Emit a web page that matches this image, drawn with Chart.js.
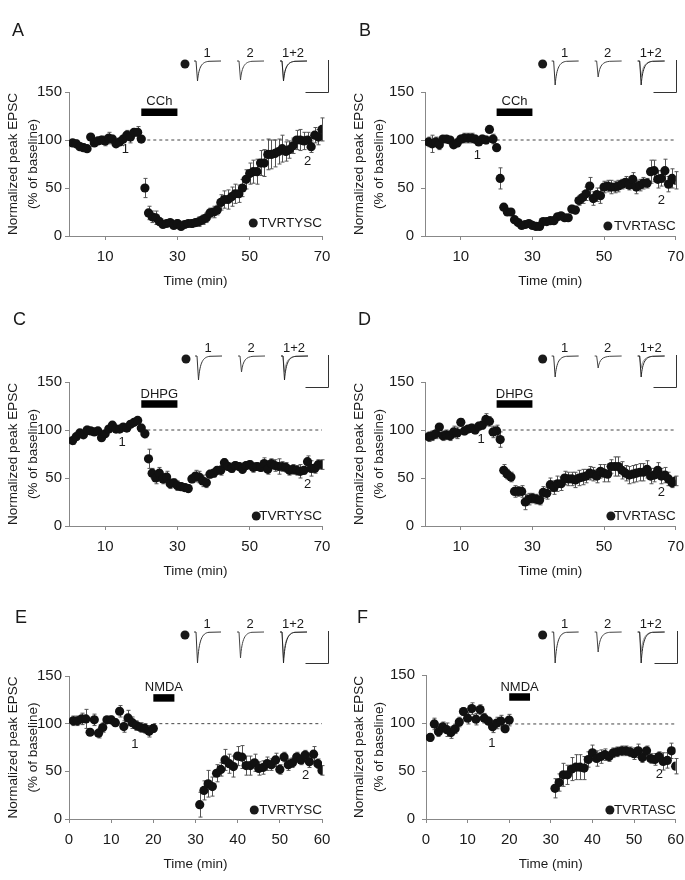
<!DOCTYPE html>
<html>
<head>
<meta charset="utf-8">
<script src="https://cdn.jsdelivr.net/npm/chart.js@4.4.1/dist/chart.umd.min.js"></script>
<style>
html, body { margin: 0; padding: 0; background: #fff; overflow: hidden; }
#fig { position: relative; width: 685px; height: 880px; }
#fig canvas { position: absolute; }
</style>
</head>
<body>
<div id="fig"></div>
<script>
// time points (min)
var timeLong = [1,2,3,4,5,6,7,8,9,10,11,12,13,14,15,16,17,18,19,20,
  21,22,23,24,25,26,27,28,29,30,31,32,33,34,35,36,37,38,39,40,
  41,42,43,44,45,46,47,48,49,50,51,52,53,54,55,56,57,58,59,60,
  61,62,63,64,65,66,67,68,69,70];
var timeNmda = [1,2,3,4,5,6,7,8,9,10,11,12,13,14,15,16,17,18,19,20,
  31,32,33,34,35,36,37,38,39,40,41,42,43,44,45,46,47,48,49,50,
  51,52,53,54,55,56,57,58,59,60];

// normalized peak EPSC (% of baseline) and SEM, one pair per panel
var valueA = [97,96,93,92,91,103,97,99,100,99, 102,101,96,98,101,105,103,108,108,101,
  50,24,20,19,15,12,13,14,11,13, 10,12,13,13,14,15,17,19,24,25,
  27,35,38,38,41,44,44,50,59,65, 67,67,76,76,85,85,86,88,91,88,
  90,94,100,100,99,100,93,105,103,111];
var semA = [3,4,4,4,3,3,3,3,4,5, 6,4,3,3,4,5,6,4,6,3,
  10,7,6,7,4,3,3,3,3,4, 3,3,3,4,4,5,5,5,5,6,
  5,8,9,10,10,10,9,9,10,11, 12,13,13,14,16,15,14,13,14,10,
  9,8,10,11,9,8,6,8,8,12];

var valueB = [98,96,98,95,101,101,100,95,97,101, 102,102,102,101,98,101,100,111,101,92,
  60,30,25,25,17,14,11,12,13,11, 10,10,15,15,16,16,20,21,19,19,
  28,27,37,40,44,52,39,43,42,51, 52,51,51,52,54,56,53,59,51,53,
  55,55,67,68,59,60,68,54,60,58];
var semB = [5,9,5,5,3,3,3,3,4,4, 5,5,5,4,3,4,4,3,5,3,
  11,3,3,3,3,3,2,3,3,3, 2,2,3,2,3,3,3,3,3,3,
  4,4,5,6,7,9,7,7,8,6, 6,7,6,6,5,6,5,7,7,6,
  6,5,12,11,9,8,12,8,10,9];

var valueC = [89,93,97,95,100,99,98,99,92,96, 101,105,101,101,103,102,106,108,110,102,
  96,70,55,50,55,49,51,44,45,42, 41,40,39,49,52,51,47,45,54,55,
  58,58,66,62,60,63,62,59,63,64, 61,62,61,65,59,65,63,62,62,61,
  58,59,58,57,58,67,60,60,64,64];
var semC = [4,3,3,3,4,3,3,3,3,3, 3,3,3,3,3,3,3,3,3,4,
  4,10,5,6,6,5,6,5,4,5, 4,4,4,4,6,6,6,5,4,4,
  4,5,4,4,4,4,4,4,4,4, 5,4,4,6,5,5,6,8,5,5,
  5,5,5,7,4,6,8,5,5,5];

var valueD = [93,94,96,103,94,95,94,98,97,108, 99,101,102,100,104,105,111,109,98,99,
  90,58,54,51,36,36,36,25,28,29, 28,27,35,34,43,40,44,44,50,49,
  49,48,50,51,52,55,54,52,57,55, 54,62,62,62,58,55,53,54,55,56,
  56,59,52,53,58,52,53,49,45,47];
var semD = [5,5,5,3,5,5,5,6,6,4, 4,3,4,4,4,4,6,5,6,6,
  8,6,5,5,6,5,6,8,6,5, 5,5,6,6,7,7,8,7,7,7,
  7,8,8,8,7,7,7,7,7,9, 8,7,10,10,9,8,9,9,9,9,
  9,9,8,7,8,8,8,7,5,5];

var valueE = [103,103,105,105,91,104,90,96,104,104, 101,113,97,106,101,98,96,95,92,95,
  15,30,37,34,48,52,62,58,55,66, 65,56,56,59,53,54,58,57,62,52,
  65,57,59,65,62,67,60,68,58,51];
var semE = [5,5,6,10,3,6,5,5,3,4, 4,6,6,8,6,5,5,5,6,4,
  13,10,14,10,9,7,11,10,11,10, 12,10,10,9,7,7,7,6,7,5,
  5,6,5,5,5,5,6,8,5,5];

var valueF = [85,99,91,96,93,90,94,101,112,105, 115,104,114,105,102,96,100,102,94,103,
  32,38,46,46,52,54,54,53,62,69, 63,65,67,65,69,70,71,71,70,68,
  71,64,71,63,62,65,60,61,71,55];
var semF = [4,6,5,5,7,6,5,5,4,6, 6,6,5,5,4,6,6,6,4,6,
  10,9,12,10,12,13,13,12,8,8, 8,7,6,5,5,5,5,5,5,6,
  7,5,5,5,6,5,9,8,8,8];

// drug application, peptide names, axis ticks
var drugNames = ['CCh', 'CCh', 'DHPG', 'DHPG', 'NMDA', 'NMDA'];
var drugStart = [20, 20, 20, 20, 20, 20];
var drugEnd = [30, 30, 30, 30, 25, 25];
var peptides = ['TVRTYSC', 'TVRTASC', 'TVRTYSC', 'TVRTASC', 'TVRTYSC', 'TVRTASC'];
var panelLetters = ['A', 'B', 'C', 'D', 'E', 'F'];
var traceLabels = ['1', '2', '1+2'];
var yTicks = [0, 50, 100, 150];
var xTicksLong = [10, 30, 50, 70];
var xTicksNmda = [0, 10, 20, 30, 40, 50, 60];

var FONT = "'Liberation Sans', Arial, Helvetica, sans-serif";
var INK = '#1a1a1a';
var AXIS = '#888';

// placement of each panel (canvas box, plot box, annotation spots)
var panels = [
  { t: timeLong, v: valueA, e: semA, xMax: 70, xt: xTicksLong,
    box: [0, 0, 342, 290], pad: { left: 0, top: 92, right: 20, bottom: 0 }, yw: 69, yTitlePad: 3, yTickPad: 3,
    base: 100, barY: 129, drugY: 140, one: [15.6, 90], two: [66, 78], legDy: -13, legGap: 6,
    letter: [12, 36], inset: { dx: -137, dy: -31, bar: 143, depth: [20, 19] } },
  { t: timeLong, v: valueB, e: semB, xMax: 70, xt: xTicksLong,
    box: [342, 0, 350, 290], pad: { left: 0, top: 92, right: 14, bottom: 0 }, yw: 83, yTitlePad: 7, yTickPad: 7,
    base: 100, barY: 129, drugY: 140, one: [14.6, 84], two: [66, 37], legDy: -10, legGap: 6,
    letter: [17, 36], inset: { dx: -133, dy: -31, bar: 133, depth: [24, 16] } },
  { t: timeLong, v: valueC, e: semC, xMax: 70, xt: xTicksLong,
    box: [0, 290, 342, 290], pad: { left: 0, top: 92, right: 20, bottom: 0 }, yw: 69, yTitlePad: 3, yTickPad: 3,
    base: 100, barY: 127, drugY: 137.5, one: [14.7, 86.6], two: [66, 43], legDy: -10, legGap: 3,
    letter: [13, 35], inset: { dx: -136, dy: -26, bar: 142, depth: [24, 16] } },
  { t: timeLong, v: valueD, e: semD, xMax: 70, xt: xTicksLong,
    box: [342, 290, 350, 290], pad: { left: 0, top: 92, right: 14, bottom: 0 }, yw: 83, yTitlePad: 7, yTickPad: 7,
    base: 100, barY: 127, drugY: 137.5, one: [15.7, 90], two: [66, 35], legDy: -10, legGap: 3,
    letter: [16, 35], inset: { dx: -133, dy: -26, bar: 133, depth: [21, 12] } },
  { t: timeNmda, v: valueE, e: semE, xMax: 60, xt: xTicksNmda,
    box: [0, 580, 342, 300], pad: { left: 0, top: 96, right: 20, bottom: 7 }, yw: 69, yTitlePad: 3, yTickPad: 3,
    base: 100, barY: 127, drugY: 137.5, one: [15.6, 78.6], two: [56.1, 46], legDy: -9, legGap: 5,
    letter: [15, 43], inset: { dx: -137, dy: -44, bar: 143, depth: [31, 26] } },
  { t: timeNmda, v: valueF, e: semF, xMax: 60, xt: xTicksNmda,
    box: [342, 580, 350, 300], pad: { left: 0, top: 95, right: 14, bottom: 7 }, yw: 84, yTitlePad: 7, yTickPad: 7,
    base: 99, barY: 127, drugY: 137.5, one: [15.8, 78.6], two: [56.1, 46], legDy: -9, legGap: 4,
    letter: [15, 43], inset: { dx: -133, dy: -43, bar: 134, depth: [31, 20] } }
];

function drawTrace(ctx, x0, y0, w, d, color) {
  ctx.save();
  ctx.strokeStyle = color;
  ctx.lineWidth = 1;
  ctx.beginPath();
  ctx.moveTo(x0, y0);
  ctx.lineTo(x0 + 2, y0);
  ctx.lineTo(x0 + 3.5, y0 + d);
  ctx.bezierCurveTo(x0 + 5, y0 + d * 0.25, x0 + 8, y0 + 1, x0 + 15, y0 + 0.3);
  ctx.lineTo(x0 + w, y0);
  ctx.stroke();
  ctx.restore();
}

function decor(p, i) {
  return {
    id: 'decor' + i,
    beforeDatasetsDraw: function (chart) {
      var ctx = chart.ctx, xs = chart.scales.x, ys = chart.scales.y;
      ctx.save();
      ctx.strokeStyle = '#555';
      ctx.lineWidth = 1;
      p.t.forEach(function (t, k) {
        var x = Math.round(xs.getPixelForValue(t)) + 0.5;
        var yHi = ys.getPixelForValue(p.v[k] + p.e[k]);
        var yLo = ys.getPixelForValue(p.v[k] - p.e[k]);
        ctx.beginPath();
        ctx.moveTo(x, yHi); ctx.lineTo(x, yLo);
        ctx.moveTo(x - 2, yHi); ctx.lineTo(x + 2, yHi);
        ctx.moveTo(x - 2, yLo); ctx.lineTo(x + 2, yLo);
        ctx.stroke();
      });
      ctx.restore();
    },
    afterDatasetsDraw: function (chart) {
      var ctx = chart.ctx, xs = chart.scales.x, ys = chart.scales.y, a = chart.chartArea;
      ctx.save();
      ctx.fillStyle = INK;
      ctx.textAlign = 'center';
      ctx.textBaseline = 'middle';
      ctx.font = '13px ' + FONT;
      ctx.fillText(drugNames[i], xs.getPixelForValue((drugStart[i] + drugEnd[i]) / 2), ys.getPixelForValue(p.drugY));
      ctx.fillText('1', xs.getPixelForValue(p.one[0]), ys.getPixelForValue(p.one[1]));
      ctx.fillText('2', xs.getPixelForValue(p.two[0]), ys.getPixelForValue(p.two[1]));
      // legend inside the plot
      ctx.font = '13.5px ' + FONT;
      ctx.textAlign = 'right';
      var ly = a.bottom + p.legDy;
      ctx.fillText(peptides[i], a.right, ly);
      var tw = ctx.measureText(peptides[i]).width;
      ctx.beginPath();
      ctx.arc(a.right - tw - p.legGap, ly, 4.5, 0, Math.PI * 2);
      ctx.fill();
      ctx.restore();
    },
    afterDraw: function (chart) {
      var ctx = chart.ctx, a = chart.chartArea, s = p.inset;
      ctx.save();
      ctx.fillStyle = INK;
      ctx.font = '18px ' + FONT;
      ctx.textAlign = 'left';
      ctx.textBaseline = 'alphabetic';
      ctx.fillText(panelLetters[i], p.letter[0], p.letter[1]);
      var bx = a.right + s.dx, by = a.top + s.dy;
      ctx.beginPath();
      ctx.arc(bx, by + 3, 4.5, 0, Math.PI * 2);
      ctx.fill();
      ctx.font = '13px ' + FONT;
      ctx.textAlign = 'center';
      ctx.textBaseline = 'middle';
      [9, 52, 95].forEach(function (off, k) {
        ctx.fillText(traceLabels[k], bx + off + 13, by - 8);
      });
      drawTrace(ctx, bx + 9, by, 27, s.depth[0], '#333');
      drawTrace(ctx, bx + 52, by, 27, s.depth[1], '#444');
      drawTrace(ctx, bx + 95, by, 27, s.depth[1], '#999');
      drawTrace(ctx, bx + 95, by, 27, s.depth[0], '#222');
      var sx = Math.round(bx + s.bar) + 0.5, sy = Math.round(by + 31) + 0.5;
      ctx.strokeStyle = '#333';
      ctx.lineWidth = 1;
      ctx.beginPath();
      ctx.moveTo(sx, by - 1); ctx.lineTo(sx, sy); ctx.lineTo(sx - 23, sy);
      ctx.stroke();
      ctx.restore();
    }
  };
}

var fig = document.getElementById('fig');

panels.forEach(function (p, i) {
  var cv = document.createElement('canvas');
  cv.width = p.box[2];
  cv.height = p.box[3];
  cv.style.left = p.box[0] + 'px';
  cv.style.top = p.box[1] + 'px';
  cv.style.width = p.box[2] + 'px';
  cv.style.height = p.box[3] + 'px';
  fig.appendChild(cv);

  var points = p.t.map(function (t, k) { return { x: t, y: p.v[k] }; });

  new Chart(cv, {
    type: 'scatter',
    data: {
      datasets: [{
        label: peptides[i],
        data: points,
        pointRadius: 4.6,
        pointBackgroundColor: '#111',
        pointBorderWidth: 0,
        showLine: false,
        order: 0
      }, {
        type: 'line',
        data: [{ x: 20, y: p.base }, { x: p.xMax, y: p.base }],
        borderColor: '#444',
        borderWidth: 1,
        borderDash: [3, 3],
        pointRadius: 0,
        order: 2
      }, {
        type: 'line',
        data: [{ x: drugStart[i], y: p.barY }, { x: drugEnd[i], y: p.barY }],
        borderColor: '#000',
        borderWidth: 7.5,
        borderCapStyle: 'butt',
        pointRadius: 0,
        order: 1
      }]
    },
    options: {
      responsive: false,
      animation: false,
      events: [],
      layout: { padding: p.pad },
      plugins: { legend: { display: false }, tooltip: { enabled: false } },
      scales: {
        x: {
          type: 'linear',
          min: 0,
          max: p.xMax,
          afterBuildTicks: function (scale) {
            scale.ticks = p.xt.map(function (v) { return { value: v }; });
          },
          afterFit: function (scale) { scale.height = 54; },
          grid: { display: true, drawOnChartArea: false, drawTicks: true, tickLength: 4, color: AXIS },
          border: { display: true, color: AXIS, width: 1 },
          ticks: { color: INK, font: { family: FONT, size: 15 }, padding: 8, maxRotation: 0, autoSkip: false },
          title: { display: true, text: 'Time (min)', color: INK, font: { family: FONT, size: 13.5 }, padding: { top: 0, bottom: 1 } }
        },
        y: {
          min: 0,
          max: 150,
          afterBuildTicks: function (scale) {
            scale.ticks = yTicks.map(function (v) { return { value: v }; });
          },
          afterFit: function (scale) { scale.width = p.yw; },
          grid: { display: true, drawOnChartArea: false, drawTicks: true, tickLength: 4, color: AXIS },
          border: { display: true, color: AXIS, width: 1 },
          ticks: { color: INK, font: { family: FONT, size: 15 }, padding: p.yTickPad },
          title: {
            display: true,
            text: ['Normalized peak EPSC', '(% of baseline)'],
            color: INK,
            font: { family: FONT, size: 13.5, lineHeight: 1.5 },
            padding: { top: p.yTitlePad, bottom: 0 }
          }
        }
      }
    },
    plugins: [decor(p, i)]
  });
});
</script>
</body>
</html>
